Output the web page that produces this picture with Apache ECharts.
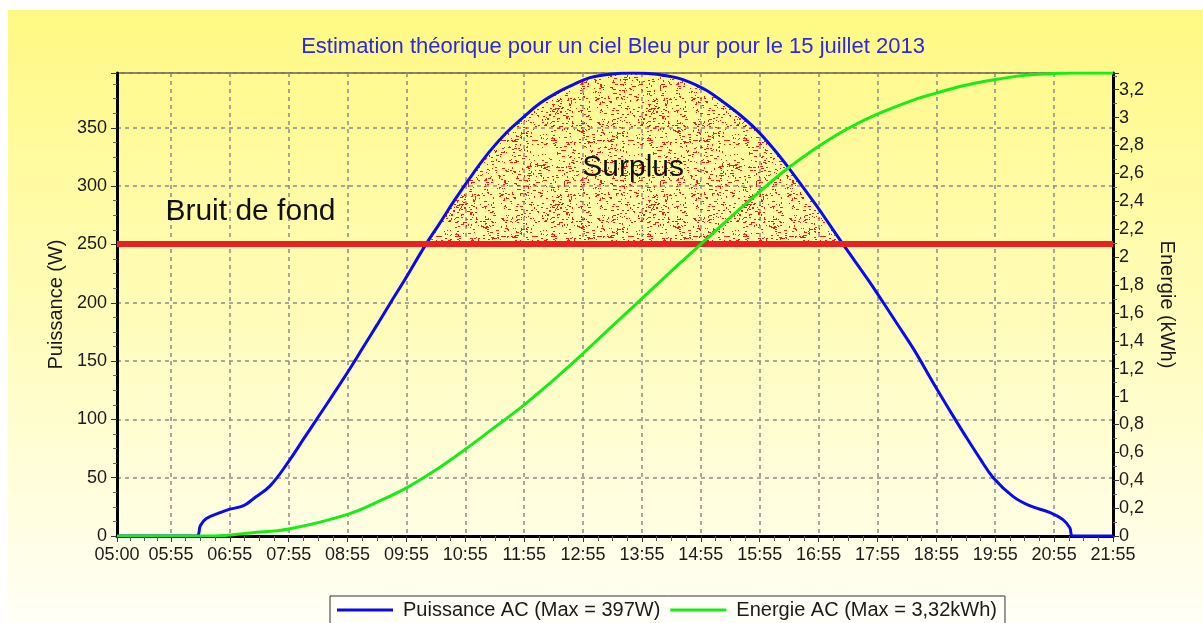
<!DOCTYPE html>
<html>
<head>
<meta charset="utf-8">
<script src="https://cdn.jsdelivr.net/npm/echarts@6/dist/echarts.min.js"></script>
<style>
html,body{margin:0;padding:0;background:#ffffff;}
#wrap{position:relative;width:1203px;height:623px;overflow:hidden;background:#ffffff;}
#bg{position:absolute;left:8px;top:10px;right:0;bottom:0;background:linear-gradient(to bottom,#fff984 0%,#fffcb4 45%,#fffff6 100%);}
#c{position:absolute;left:0;top:0;width:1203px;height:623px;}
</style>
</head>
<body>
<div id="wrap"><div id="bg"></div><div id="c"></div></div>
<script>
// ---- Data ----
const titleText = 'Estimation théorique pour un ciel Bleu pur pour le 15 juillet 2013';
const xTickLabels = ['05:00','05:55','06:55','07:55','08:55','09:55','10:55','11:55','12:55','13:55','14:55','15:55','16:55','17:55','18:55','19:55','20:55','21:55'];
// time in minutes since midnight
const powerTimes  = [300, 381, 385, 391, 405, 415, 429, 439, 456, 475, 490, 505, 520, 537, 551, 565, 578, 592, 614, 628, 644, 663, 680, 697, 714, 731, 748, 765, 782, 802, 826, 850, 870, 884, 901, 918, 935, 952, 969, 986, 1000, 1013, 1027, 1040, 1066, 1081, 1095, 1112, 1132, 1152, 1163, 1179, 1193, 1213, 1230, 1251, 1264, 1271, 1274, 1315];
const powerValues = [0,   0,   9,   15,  20,  23,  26,  32,  43,  64,  83,  102, 121, 143, 162, 181, 199, 218, 249, 267, 288, 311, 330, 346, 359, 371, 380, 387, 393, 396, 397, 396, 393, 389, 382, 372, 361, 348, 332, 314, 298,  283,  266,  250,  219,  200,  182,  160,  131,  103,  88,   67,   50,   34,   26,   20,   14,   7,    0,    0];
const energyTimes  = [300, 400, 410,   436,   475,  535,   571,   595,   622,  655,   684,   714,   741,   769,  800,   833,  875,   897,   934,  970,  988,  1014, 1043,  1073, 1115,  1132, 1160,  1192, 1225,  1252,  1275, 1315];
const energyValues = [0,   0,   0.004, 0.022, 0.05, 0.155, 0.262, 0.345, 0.46, 0.622, 0.775, 0.935, 1.095, 1.27, 1.475, 1.69, 1.965, 2.105, 2.34, 2.56, 2.66, 2.79, 2.915, 3.02, 3.135, 3.17, 3.225, 3.27, 3.303, 3.315, 3.32, 3.32];
const noiseLevel = 251;   // "Bruit de fond" (W)
const powerMax = 397;     // W
const energyMax = 3.32;   // kWh
const annotations = [
  {text: 'Bruit de fond', t: 436, v: 278},
  {text: 'Surplus', t: 826, v: 316}
];
const legendNames = ['Puissance AC (Max = 397W)', 'Energie AC (Max = 3,32kWh)'];

// ---- helpers ----
function toMin(s){const p=s.split(':');return (+p[0])*60+(+p[1]);}
const xTickMinutes = xTickLabels.map(toMin);
const xMinorMinutes = [];
for (let i=0;i<xTickMinutes.length-1;i++){
  const a=xTickMinutes[i], b=xTickMinutes[i+1];
  for (let k=1;k<4;k++) xMinorMinutes.push(a+(b-a)*k/4);
}
const powerData = powerTimes.map((t,i)=>[t,powerValues[i]]);
const energyData = energyTimes.map((t,i)=>[t,energyValues[i]]);
const surplusData = powerTimes.map((t,i)=>[t,Math.max(powerValues[i],noiseLevel)]);

// speckle texture for the surplus area (pure styling)
function speckle(){
  const n=96, c=document.createElement('canvas'); c.width=n; c.height=n;
  const g=c.getContext('2d'); g.fillStyle='#ee1c1c';
  let s=987654321;
  function nx(){ s=(s*1664525+1013904223)>>>0; return s>>>8; }
  for(let i=0;i<620;i++){
    const x=nx()%n, y=nx()%n, r=nx()%6;
    const w = r===0?3:(r===1||r===2?2:1);
    const h = r===3?2:1;
    g.fillRect(x,y,w,h);
  }
  return c;
}

const font = 'Liberation Sans, Arial, sans-serif';
const chart = echarts.init(document.getElementById('c'), null, {renderer:'canvas'});
const dashed = {show:true, lineStyle:{color:'#8a8a8a', width:1.5, type:[4,4]}};

chart.setOption({
  animation:false,
  backgroundColor:'transparent',
  textStyle:{fontFamily:font},
  title:{
    text:titleText, left:613, top:36, textAlign:'center', padding:0,
    textStyle:{color:'#2a2ae0', fontSize:22, fontWeight:'normal', fontFamily:font}
  },
  legend:{
    data:legendNames, left:330, top:596, orient:'horizontal',
    icon:'rect', itemWidth:56, itemHeight:3, itemGap:10,
    padding:[4,8,10,7], borderColor:'#333', borderWidth:1, backgroundColor:'#fffff7',
    textStyle:{fontSize:20, color:'#1a1a1a', fontFamily:font, padding:[0,0,0,5]}
  },
  grid:{left:117, right:90, top:73, bottom:87, show:true, borderColor:'#000', borderWidth:1, backgroundColor:'transparent'},
  xAxis:[{
    type:'value', min:300, max:1315,
    axisLine:{show:true, onZero:false, lineStyle:{color:'#000', width:3}},
    axisTick:{show:true, customValues:xTickMinutes, length:6, lineStyle:{color:'#333', width:1}},
    axisLabel:{customValues:xTickMinutes, fontSize:18, color:'#1a1a1a', margin:10,
      formatter:v=>{const i=xTickMinutes.indexOf(v); return i>=0?xTickLabels[i]:'';}},
    splitLine:dashed
  },{
    type:'value', min:300, max:1315, position:'bottom',
    axisLine:{show:false}, axisLabel:{show:false}, splitLine:{show:false},
    axisTick:{show:true, customValues:xMinorMinutes, length:5, lineStyle:{color:'#555', width:1}}
  }],
  yAxis:[{
    type:'value', min:0, max:powerMax, interval:50, position:'left',
    name:'Puissance (W)', nameLocation:'middle', nameGap:50,
    nameTextStyle:{fontSize:20, color:'#1a1a1a', fontFamily:font},
    axisLine:{show:true, lineStyle:{color:'#000', width:3}},
    axisTick:{show:true, length:6, lineStyle:{color:'#333'}},
    minorTick:{show:true, splitNumber:4, length:4, lineStyle:{color:'#666'}},
    axisLabel:{fontSize:18, color:'#1a1a1a', margin:10, showMaxLabel:false},
    splitLine:dashed
  },{
    type:'value', min:0, max:energyMax, interval:0.2, position:'right',
    name:'Energie (kWh)', nameLocation:'middle', nameGap:44, nameRotate:-90,
    nameTextStyle:{fontSize:20, color:'#1a1a1a', fontFamily:font},
    axisLine:{show:true, lineStyle:{color:'#000', width:3}},
    axisTick:{show:true, length:6, lineStyle:{color:'#333'}},
    minorTick:{show:true, splitNumber:2, length:4, lineStyle:{color:'#666'}},
    axisLabel:{fontSize:18, color:'#1a1a1a', margin:6, showMaxLabel:false,
      formatter:v=>String(Math.round(v*10)/10).replace('.',',')},
    splitLine:{show:false}
  }],
  series:[{
    name:'Surplus', type:'line', xAxisIndex:0, yAxisIndex:0, data:surplusData,
    smooth:0.4, showSymbol:false, silent:true, z:1,
    lineStyle:{width:0, opacity:0},
    areaStyle:{origin:noiseLevel, opacity:1, color:{image:speckle(), repeat:'repeat'}},
    markLine:{silent:true, symbol:['none','none'], label:{show:false},
      lineStyle:{color:'#ec2020', width:6, type:'solid'},
      data:[{yAxis:noiseLevel}]}
  },{
    name:legendNames[0], type:'line', xAxisIndex:0, yAxisIndex:0, data:powerData,
    smooth:0.4, showSymbol:false, z:4, color:'#0a0af0',
    lineStyle:{color:'#0a0af0', width:3},
    markPoint:{silent:true, symbol:'rect', symbolSize:1, itemStyle:{color:'rgba(0,0,0,0)'},
      label:{show:true, position:'inside', formatter:'{b}', fontSize:30, color:'#111', fontFamily:font},
      data:annotations.map(a=>({name:a.text, coord:[a.t,a.v]}))}
  },{
    name:legendNames[1], type:'line', xAxisIndex:0, yAxisIndex:1, data:energyData,
    smooth:0.4, showSymbol:false, z:5, color:'#14ee14',
    lineStyle:{color:'#14ee14', width:3}
  }]
});
</script>
</body>
</html>
